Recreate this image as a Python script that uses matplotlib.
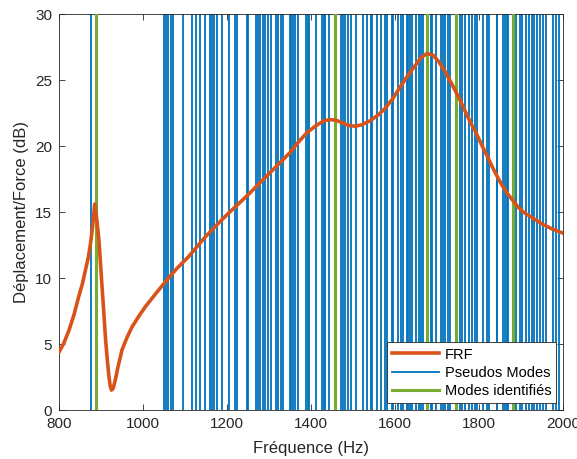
import matplotlib
matplotlib.use("Agg")
import matplotlib.pyplot as plt

# FRF curve (Hz, dB)
freq = [800, 812, 824, 836, 847, 856, 863, 870, 875, 880, 885, 890, 895, 899, 903, 907,
        911, 915, 919, 922, 925, 929, 934, 940, 950, 962, 974, 990, 1005, 1030, 1053,
        1080, 1108, 1148, 1175, 1200, 1250, 1300, 1350, 1370, 1390, 1410, 1430, 1445,
        1460, 1475, 1490, 1505, 1520, 1540, 1558, 1575, 1595, 1615, 1632, 1648, 1662,
        1676, 1690, 1704, 1720, 1737, 1753, 1769, 1781, 1793, 1806, 1820, 1835, 1850,
        1865, 1880, 1895, 1910, 1930, 1950, 1975, 2000]
frf = [4.37, 5.1, 6.06, 7.25, 8.6, 9.6, 10.6, 11.6, 12.6, 13.9, 15.6, 14.4, 12.9, 11.0,
       9.1, 7.2, 5.3, 3.8, 2.5, 1.8, 1.5, 1.65, 2.27, 3.2, 4.55, 5.5, 6.3, 7.1, 7.8, 8.8,
       9.7, 10.7, 11.6, 13.1, 14.0, 14.8, 16.3, 17.9, 19.5, 20.3, 21.0, 21.5, 21.9, 22.0,
       21.95, 21.75, 21.55, 21.5, 21.6, 21.9, 22.3, 22.8, 23.6, 24.6, 25.4, 26.1, 26.7,
       27.0, 26.9, 26.4, 25.6, 24.6, 23.6, 22.5, 21.7, 21.0, 20.1, 19.2, 18.2, 17.3,
       16.5, 15.9, 15.3, 14.9, 14.5, 14.1, 13.7, 13.4]

pseudo_modes = [877, 1050, 1055, 1060, 1067, 1072, 1095, 1117, 1126, 1136, 1148, 1160,
                1165, 1169, 1176, 1189, 1205, 1219, 1223, 1247, 1250, 1270, 1273, 1278,
                1285, 1290, 1297, 1305, 1316, 1321, 1329, 1333, 1349, 1353, 1356, 1363,
                1368, 1388, 1392, 1396, 1411, 1427, 1430, 1434, 1442, 1471, 1477, 1482,
                1487, 1496, 1507, 1523, 1533, 1543, 1546, 1557, 1567, 1576, 1582, 1593,
                1596, 1606, 1614, 1620, 1628, 1631, 1636, 1641, 1650, 1656, 1662, 1667,
                1685, 1688, 1697, 1709, 1714, 1718, 1726, 1731, 1754, 1759, 1766, 1776,
                1783, 1790, 1795, 1809, 1818, 1823, 1842, 1844, 1856, 1862, 1866, 1870,
                1888, 1897, 1903, 1912, 1920, 1925, 1932, 1937, 1945, 1953, 1960, 1976,
                1983, 1991]
identified_modes = [889, 1458, 1676, 1746, 1880]

xticks = [800, 1000, 1200, 1400, 1600, 1800, 2000]
yticks = [0, 5, 10, 15, 20, 25, 30]

plt.rcParams['font.family'] = ['Liberation Sans', 'DejaVu Sans']

fig = plt.figure(figsize=(5.77, 4.59), dpi=100)
ax = fig.add_axes([59/577, 49/459, 504/577, 396/459])

blue = '#0072BD'
orange = '#D95319'
green = '#77AC30'

for i, f in enumerate(pseudo_modes):
    ax.plot([f, f], [0, 30], color=blue, lw=1.3, zorder=2,
            label='Pseudos Modes' if i == 0 else None)
for i, f in enumerate(identified_modes):
    ax.plot([f, f], [0, 30], color=green, lw=2.2, zorder=3,
            label='Modes identifiés' if i == 0 else None)
ax.plot(freq, frf, color=orange, lw=2.6, zorder=4, label='FRF',
        solid_joinstyle='round')

ax.set_xlim(800, 2000)
ax.set_ylim(0, 30)
ax.set_xticks(xticks)
ax.set_yticks(yticks)
ax.tick_params(direction='in', length=4, width=0.6, labelsize=11, colors='#262626',
               top=True, right=True, pad=5)
for s in ax.spines.values():
    s.set_color('#262626')
    s.set_linewidth(0.6)
ax.set_xlabel('Fréquence (Hz)', fontsize=12, color='#262626', labelpad=7)
ax.set_ylabel('Déplacement/Force (dB)', fontsize=12, color='#262626', labelpad=4)

handles, labels = ax.get_legend_handles_labels()
order = [labels.index('FRF'), labels.index('Pseudos Modes'), labels.index('Modes identifiés')]
leg = ax.legend([handles[i] for i in order], [labels[i] for i in order],
                loc='lower right', fontsize=10.5, fancybox=False, framealpha=1,
                edgecolor='#262626', borderaxespad=0.45, handlelength=3.2,
                borderpad=0.35, labelspacing=0.3, handletextpad=0.4)
leg.get_frame().set_linewidth(0.6)
leg.set_zorder(10)

fig.savefig('out.png', dpi=100)
